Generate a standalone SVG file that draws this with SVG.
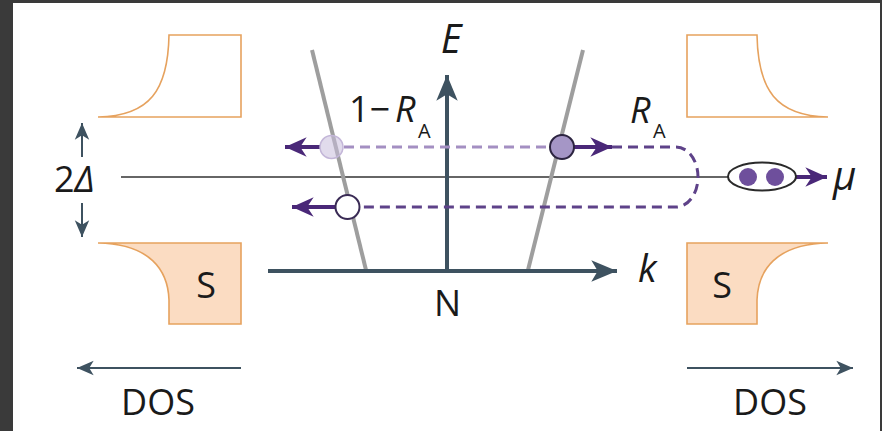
<svg xmlns="http://www.w3.org/2000/svg" width="882" height="431" viewBox="0 0 882 431">
<style>
text{font-family:"Open Sans","Liberation Sans",sans-serif;fill:#1a1a1a}
.it{font-style:italic}
.big{font-size:36px}
.sub{font-size:20px}
.dos{fill:none;stroke:#e6a25e;stroke-width:1.6}
.dosf{fill:#fbdcc2;stroke:#e6a25e;stroke-width:1.6}
.ax{stroke:#3e5260;stroke-width:4;fill:none}
.thin{stroke:#3e5260;stroke-width:2;fill:none}
.disp{stroke:#9e9e9e;stroke-width:4;fill:none}
.pa{stroke:#4a2878;stroke-width:4;fill:none}
.dl{stroke:#a48fc2;stroke-width:3;stroke-dasharray:10 6;fill:none}
.dd{stroke:#5e4289;stroke-width:3;stroke-dasharray:10 6;fill:none}
</style>
<defs>
<marker id="ahAx" markerUnits="userSpaceOnUse" markerWidth="30" markerHeight="30" refX="0" refY="0" viewBox="-26 -12 28 24" orient="auto">
<path d="M0,0 L-24,-10 L-18,0 L-24,10 Z" fill="#3e5260"/>
</marker>
<marker id="ahTh" markerUnits="userSpaceOnUse" markerWidth="20" markerHeight="20" refX="0" refY="0" viewBox="-16 -8 18 16" orient="auto">
<path d="M0,0 L-15,-6.5 L-11,0 L-15,6.5 Z" fill="#3e5260"/>
</marker>
<marker id="ahP" markerUnits="userSpaceOnUse" markerWidth="26" markerHeight="26" refX="0" refY="0" viewBox="-22 -11 24 22" orient="auto">
<path d="M0,0 L-20,-9 L-14,0 L-20,9 Z" fill="#4a2878"/>
</marker>
</defs>
<rect x="0" y="0" width="882" height="431" fill="#3a3a3a"/>
<rect x="13" y="3" width="867" height="428" fill="#ffffff"/>

<g id="dos-left-top"><path class="dos" d="M169,35 L241,35 L241,117 L98,117 C150,116 168,90 169,35 Z"/></g>
<g id="dos-left-bottom"><path class="dosf" d="M98,243 L241,243 L241,324 L169,324 L169,300 C168,270 150,244 98,243 Z"/><text class="big" x="206" y="298" text-anchor="middle">S</text></g>
<g id="dos-right-top"><path class="dos" d="M757,35 L687,35 L687,117 L828,117 C776,116 758,90 757,35 Z"/></g>
<g id="dos-right-bottom"><path class="dosf" d="M828,243 L687,243 L687,324 L757,324 L757,300 C758,270 776,244 828,243 Z"/><text class="big" x="722" y="298" text-anchor="middle">S</text></g>

<g id="labels">
<text class="it" x="451" y="53" font-size="40" text-anchor="middle">E</text>
<text class="big" x="349" y="122">1−<tspan class="it" x="395">R</tspan></text>
<text class="sub" x="418" y="138">A</text>
<text class="big it" x="630" y="123">R</text>
<text class="sub" x="653" y="138">A</text>
<text class="it" x="833" y="190" font-size="40">μ</text>
<text class="big" x="54" y="192">2<tspan class="it">Δ</tspan></text>
<text class="it" x="638" y="282" font-size="38">k</text>
<text class="big" x="447.5" y="316" text-anchor="middle">N</text>
<text class="big" x="158" y="415" text-anchor="middle">DOS</text>
<text class="big" x="770" y="415" text-anchor="middle">DOS</text>
</g>

<g id="connectors">
<line x1="121" y1="177" x2="728" y2="177" stroke="#333" stroke-width="1.5"/>
<line class="thin" x1="82" y1="157" x2="82" y2="123" marker-end="url(#ahTh)"/>
<line class="thin" x1="82" y1="203" x2="82" y2="237" marker-end="url(#ahTh)"/>
<line class="thin" x1="241" y1="368" x2="77" y2="368" marker-end="url(#ahTh)"/>
<line class="thin" x1="687" y1="368" x2="853" y2="368" marker-end="url(#ahTh)"/>
<line class="disp" x1="312" y1="50" x2="366" y2="270"/>
<line class="disp" x1="583" y1="50" x2="528" y2="270"/>
<line class="ax" x1="268" y1="271" x2="617" y2="271" marker-end="url(#ahAx)"/>
<line class="ax" x1="447" y1="271" x2="447" y2="75" marker-end="url(#ahAx)"/>
<line class="dl" x1="344" y1="147" x2="550" y2="147"/>
<path class="dd" d="M612,147 L676,147 A22,30 0 0 1 676,207 L359,207"/>
<line class="pa" x1="320" y1="147" x2="285" y2="147" marker-end="url(#ahP)"/>
<line class="pa" x1="574" y1="147" x2="612" y2="147" marker-end="url(#ahP)"/>
<line class="pa" x1="335" y1="207" x2="292" y2="207" marker-end="url(#ahP)"/>
<line class="pa" x1="796" y1="177" x2="827" y2="177" marker-end="url(#ahP)"/>
</g>

<g id="hole-faded"><circle cx="331.5" cy="147" r="11.5" fill="#c9bedd" fill-opacity="0.55" stroke="#c3b6d8" stroke-width="1.5"/></g>
<g id="electron"><circle cx="562" cy="147" r="12" fill="#a596c6" stroke="#2c2440" stroke-width="2"/></g>
<g id="hole"><circle cx="347.5" cy="207" r="12" fill="#ffffff" stroke="#3a2b55" stroke-width="2"/></g>
<g id="cooper-pair">
<ellipse cx="762" cy="176.5" rx="34" ry="14" fill="#ffffff" stroke="#2a2a2a" stroke-width="2"/>
<circle cx="748" cy="177" r="9" fill="#6e4f9c"/>
<circle cx="775" cy="177" r="9" fill="#6e4f9c"/>
</g>
</svg>
